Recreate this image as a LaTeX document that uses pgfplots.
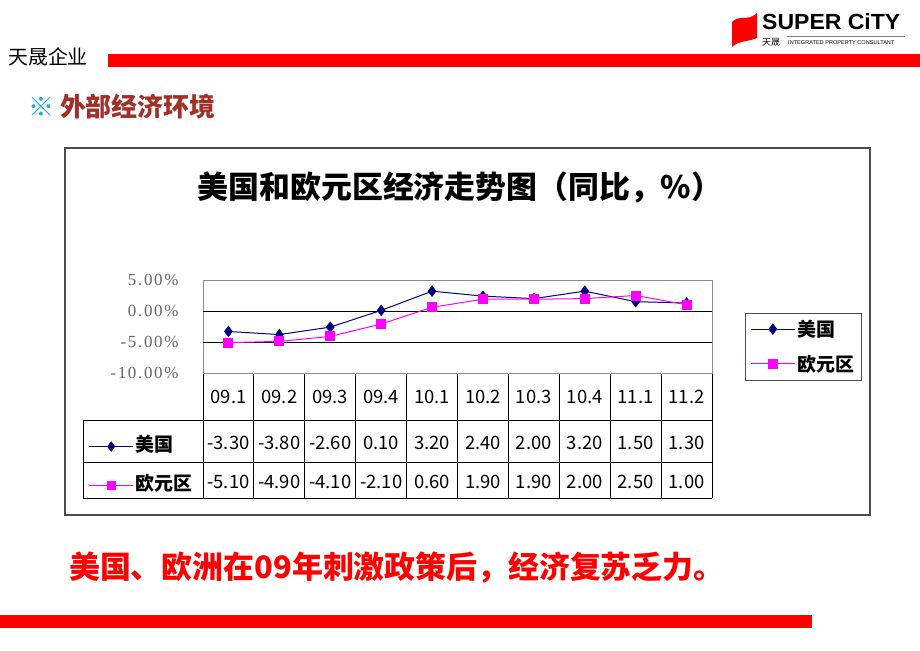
\documentclass[border=0pt]{standalone}
\usepackage{pgfplots}
\pgfplotsset{compat=1.18}
\usepackage{fontspec}
\setmainfont{Liberation Sans}
\newfontfamily\cjk{Noto Sans CJK SC}
\newfontfamily\serifnum[LetterSpace=10]{Liberation Serif}
\definecolor{usblue}{RGB}{0,0,128}
\definecolor{eumag}{RGB}{255,0,255}
\definecolor{barred}{RGB}{255,0,0}
\definecolor{titlered}{RGB}{160,48,40}
\definecolor{starcyan}{RGB}{30,170,230}
\begin{document}
\begin{tikzpicture}
\begin{scope}[x=1bp,y=-1bp]
\fill[white] (0,0) rectangle (920,651);
% header
\node[anchor=west, inner sep=0] at (8,57) {\cjk\fontsize{20}{20}\selectfont 天晟企业};
\fill[barred] (108,54) rectangle (920,67);
% logo
\fill[barred] (732,22) .. controls (740,14) and (748,22) .. (757,13) -- (757,38) .. controls (748,42) and (740,40) .. (732,47) -- cycle;
\node[anchor=west, inner sep=0, xscale=1.05] at (762,22) {\fontsize{22}{22}\selectfont\bfseries SUPER CiTY};
\draw[gray] (787,36) -- (905,36);
\node[anchor=west, inner sep=0] at (762,42) {\cjk\fontsize{9}{9}\selectfont 天晟};
\node[anchor=west, inner sep=0] at (788,42.5) {\fontsize{5.6}{6}\selectfont INTEGRATED PROPERTY CONSULTANT};
% section title
\node[anchor=west, inner sep=0] at (28,107) {\cjk\bfseries\fontsize{26}{26}\selectfont\textcolor{starcyan}{※} \textcolor{titlered}{外部经济环境}};
% bottom statement
\node[anchor=west, inner sep=0, text=barred] at (69,568) {\cjk\bfseries\fontsize{31}{31}\selectfont 美国、欧洲在09年刺激政策后，经济复苏乏力。};
\fill[barred] (0,615) rectangle (812,628);
% chart frame
\draw[black!70, line width=1.2bp] (65,148) rectangle (870,515);
\node at (460,188) {\cjk\bfseries\fontsize{31}{31}\selectfont 美国和欧元区经济走势图（同比，\%）};
% data table grid
\foreach \i in {0,...,10} {\draw[black, line width=1bp] ({203+50.9*\i},373) -- ({203+50.9*\i},498);}
\draw[black, line width=1bp] (203,373) -- (712,373);
\foreach \yy in {420,462,498} {\draw[black, line width=1bp] (83,\yy) -- (712,\yy);}
\draw[black, line width=1bp] (83,420) -- (83,498);
% table text
\foreach \t [count=\i from 0] in {09.1,09.2,09.3,09.4,10.1,10.2,10.3,10.4,11.1,11.2}
  {\node at ({203+50.9*(\i+0.5)},397) {\cjk\fontsize{18.5}{18}\selectfont \t};}
\foreach \t [count=\i from 0] in {-3.30,-3.80,-2.60,0.10,3.20,2.40,2.00,3.20,1.50,1.30}
  {\node at ({203+50.9*(\i+0.5)},443) {\cjk\fontsize{18.5}{18}\selectfont \t};}
\foreach \t [count=\i from 0] in {-5.10,-4.90,-4.10,-2.10,0.60,1.90,1.90,2.00,2.50,1.00}
  {\node at ({203+50.9*(\i+0.5)},482) {\cjk\fontsize{18.5}{18}\selectfont \t};}
\end{scope}
% main plot
\begin{axis}[at={(203bp,-373bp)}, anchor=south west, scale only axis,
  width=509bp, height=93bp,
  xmin=-0.5, xmax=9.5, ymin=-10, ymax=5,
  xtick=\empty, ytick={-10,-5,0,5},
  yticklabels={-10.00\%,-5.00\%,0.00\%,5.00\%},
  yticklabel style={font=\serifnum\fontsize{17}{17}\selectfont, text=black!60, xshift=-21bp},
  major tick length=0pt,
  axis line style={black!45},
  clip=false,
  legend style={at={(1.0648,0.645)}, anchor=north west, draw=black!70,
    font=\cjk\bfseries\fontsize{19}{19}\selectfont, row sep=13bp,
    inner ysep=5bp, inner xsep=5bp, legend cell align=left},
  legend image code/.code={\draw[mark repeat=2,mark phase=2,#1] plot coordinates {(0cm,0cm) (0.78cm,0cm) (1.56cm,0cm)};},
]
\draw[black, line width=1bp] (axis cs:-0.5,0) -- (axis cs:9.5,0);
\draw[black, line width=1bp] (axis cs:-0.5,-5) -- (axis cs:9.5,-5);
\addplot[usblue, line width=1bp, mark=diamond*, mark size=5bp] coordinates {
  (0,-3.3) (1,-3.8) (2,-2.6) (3,0.1) (4,3.2) (5,2.4) (6,2.0) (7,3.2) (8,1.5) (9,1.3)};
\addplot[eumag, line width=1bp, mark=square*, mark size=4.5bp] coordinates {
  (0,-5.1) (1,-4.9) (2,-4.1) (3,-2.1) (4,0.6) (5,1.9) (6,1.9) (7,2.0) (8,2.5) (9,1.0)};
\legend{美国, 欧元区}
\end{axis}
% legend keys inside the data table
\begin{axis}[at={(83bp,-498bp)}, anchor=south west, scale only axis,
  width=120bp, height=78bp, hide axis,
  xmin=0, xmax=1, ymin=0, ymax=1,
  legend style={at={(0.02,0.41)}, anchor=west, draw=none, fill=none,
    font=\cjk\bfseries\fontsize{19}{19}\selectfont, row sep=17bp,
    nodes={text height=14bp, text depth=4bp, inner sep=2bp}, legend cell align=left},
  legend image code/.code={\draw[mark repeat=2,mark phase=2,#1] plot coordinates {(0cm,0cm) (0.78cm,0cm) (1.56cm,0cm)};},
]
\addlegendimage{usblue, line width=1bp, mark=diamond*, mark size=4.5bp}
\addlegendimage{eumag, line width=1bp, mark=square*, mark size=4bp}
\legend{美国, 欧元区}
\end{axis}
\end{tikzpicture}
\end{document}
